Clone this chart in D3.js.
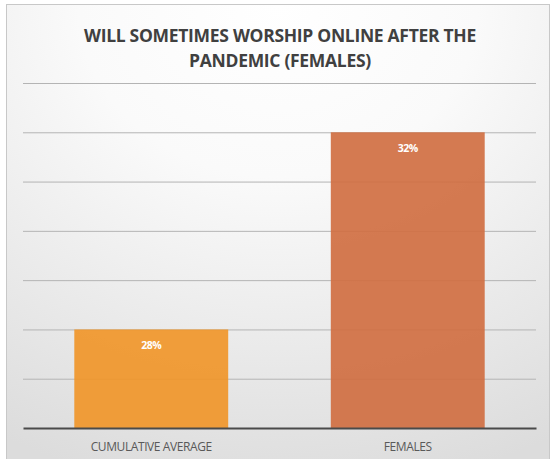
<!DOCTYPE html>
<html>
<head>
<meta charset="utf-8">
<script src="https://cdn.jsdelivr.net/npm/d3@7/dist/d3.min.js"></script>
<style>
  html, body { margin: 0; padding: 0; background: #ffffff; }
  svg { display: block; }
</style>
</head>
<body>
<svg id="chart" width="552" height="459"></svg>
<script>
// Chart data
const categories = ["CUMULATIVE AVERAGE", "FEMALES"];
const values = [28, 32];
const barColors = ["#F0962A", "#D06F42"];
const titleLines = ["WILL SOMETIMES WORSHIP ONLINE AFTER THE", "PANDEMIC (FEMALES)"];
const yDomain = [26, 33];
const yTicks = [27, 28, 29, 30, 31, 32, 33];

const svg = d3.select("#chart");
const W = 552, H = 459;
const margin = { left: 23, right: 16, top: 83, bottom: 31 };
const plotW = W - margin.left - margin.right;
const plotH = H - margin.top - margin.bottom;

// Background panel with soft gradient
const defs = svg.append("defs");
const grad = defs.append("radialGradient")
  .attr("id", "bg").attr("cx", "0.5").attr("cy", "0.0").attr("r", "1.05")
  .attr("gradientUnits", "objectBoundingBox");
grad.append("stop").attr("offset", "0").attr("stop-color", "#ffffff");
grad.append("stop").attr("offset", "0.35").attr("stop-color", "#fafafa");
grad.append("stop").attr("offset", "1").attr("stop-color", "#dcdcdc");

svg.append("rect")
  .attr("x", 6.5).attr("y", 4.5).attr("width", 543).attr("height", 470)
  .attr("fill", "url(#bg)").attr("stroke", "#c8c8c8").attr("stroke-width", 1);

// Title
const title = svg.append("text")
  .attr("text-anchor", "middle")
  .attr("font-family", "'Open Sans', sans-serif")
  .attr("font-weight", 700)
  .attr("font-size", 17.5)
  .attr("fill", "#404040")
  .attr("letter-spacing", -0.3);
titleLines.forEach((t, i) => {
  title.append("tspan").attr("x", 280).attr("y", 42 + i * 25).text(t);
});

const g = svg.append("g").attr("transform", `translate(${margin.left},${margin.top})`);

const x = d3.scaleBand().domain(categories).range([0, plotW]).paddingInner(0.4).paddingOuter(0.2);
const y = d3.scaleLinear().domain(yDomain).range([plotH, 0]);

// Gridlines
g.append("g").attr("class", "grid")
  .call(d3.axisLeft(y).tickValues(yTicks).tickSize(-plotW).tickFormat(""))
  .call(s => s.select(".domain").remove())
  .call(s => s.selectAll("line").attr("stroke", "#b4b4b4").attr("stroke-width", 1));

// Bars
g.selectAll("rect.bar").data(categories).join("rect")
  .attr("class", "bar")
  .attr("x", d => x(d))
  .attr("width", x.bandwidth())
  .attr("y", (d, i) => y(values[i]))
  .attr("height", (d, i) => plotH - y(values[i]))
  .attr("fill", (d, i) => barColors[i])
  .attr("fill-opacity", 0.92);

// Value labels
g.selectAll("text.val").data(categories).join("text")
  .attr("class", "val")
  .attr("x", d => x(d) + x.bandwidth() / 2)
  .attr("y", (d, i) => y(values[i]) + 20)
  .attr("text-anchor", "middle")
  .attr("font-family", "'Open Sans', sans-serif")
  .attr("font-weight", 700)
  .attr("font-size", 10.5)
  .attr("letter-spacing", -0.5)
  .attr("fill", "#ffffff")
  .text((d, i) => values[i] + "%");

// Category axis
const xAxis = g.append("g").attr("transform", `translate(0,${plotH})`)
  .call(d3.axisBottom(x).tickSize(0).tickPadding(14));
xAxis.select(".domain").attr("stroke", "#4a4a4a").attr("stroke-width", 2);
xAxis.selectAll("text")
  .attr("font-family", "'Open Sans', sans-serif")
  .attr("font-size", 12)
  .attr("letter-spacing", -0.4)
  .attr("fill", "#595959");
</script>
</body>
</html>
